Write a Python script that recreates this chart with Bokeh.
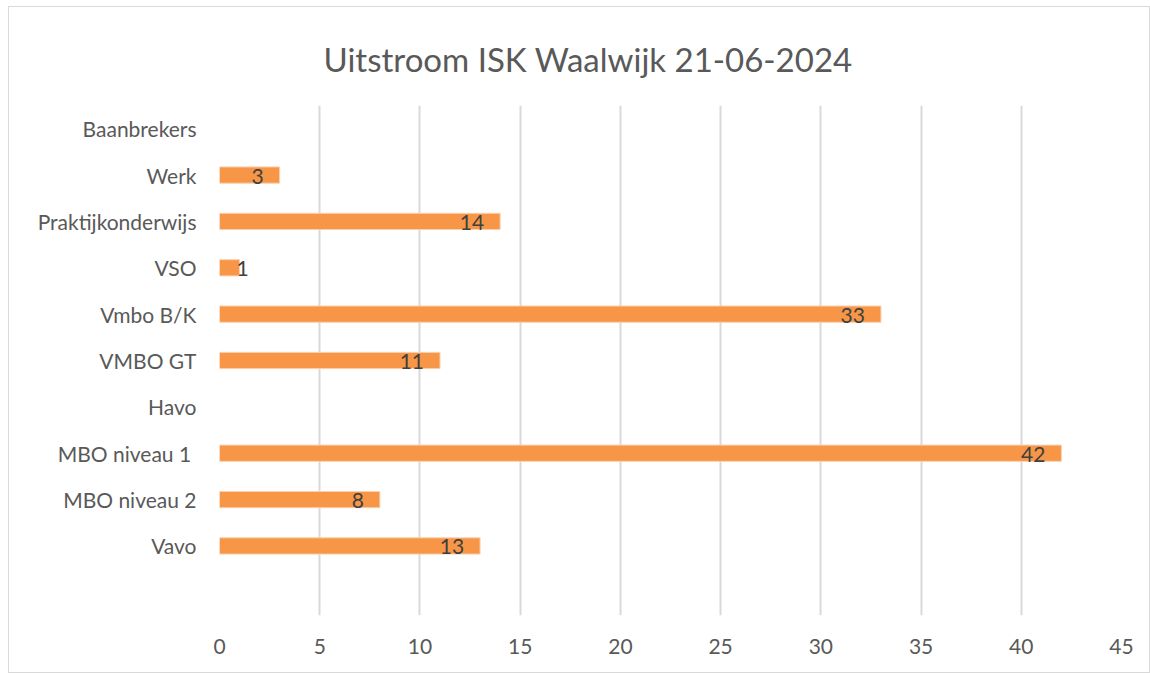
from bokeh.plotting import figure
from bokeh.models import FactorRange, Range1d, ColumnDataSource
from bokeh.core.properties import value
from bokeh.embed import file_html
from bokeh.resources import INLINE

title = "Uitstroom ISK Waalwijk  21-06-2024"
categories = ["Baanbrekers", "Werk", "Praktijkonderwijs", "VSO", "Vmbo B/K",
              "VMBO GT", "Havo", "MBO niveau 1 ", "MBO niveau 2", "Vavo"]
values = [0, 3, 14, 1, 33, 11, 0, 42, 8, 13]
x_ticks = [0, 5, 10, 15, 20, 25, 30, 35, 40, 45]

FONT = "Lato"
TXT = "#595959"

factors = [" "] + categories[::-1]

p = figure(width=1142, height=667, output_backend="svg", toolbar_location=None,
           y_range=FactorRange(factors=factors), x_range=Range1d(0, 45),
           min_border_left=210, min_border_right=30, min_border_top=98, min_border_bottom=59)
p.styles = {"border": "1px solid #d9d9d9", "box-sizing": "border-box",
            "margin-left": "8px", "margin-top": "6px"}
p.outline_line_color = None
p.background_fill_color = "white"

cats = [c for c, v in zip(categories, values) if v > 0]
vals = [v for v in values if v > 0]
src = ColumnDataSource(dict(y=cats, v=vals))
p.hbar(y="y", right="v", left=0, height=0.35, source=src,
       fill_color="#F79646", line_color="#FAD0AE", line_width=1)

big = ColumnDataSource(dict(y=[c for c, v in zip(cats, vals) if v >= 2],
                            v=[v for v in vals if v >= 2],
                            lab=[str(v) for v in vals if v >= 2]))
small = ColumnDataSource(dict(y=[c for c, v in zip(cats, vals) if v < 2],
                              v=[v for v in vals if v < 2],
                              lab=[str(v) for v in vals if v < 2]))
p.text(x="v", y="y", text="lab", source=big, text_align="right", text_baseline="middle",
       x_offset=-16, y_offset=1, text_font=value(FONT), text_font_size="21px", text_color="#404040")
p.text(x="v", y="y", text="lab", source=small, text_align="left", text_baseline="middle",
       x_offset=-3, y_offset=1, text_font=value(FONT), text_font_size="21px", text_color="#404040")

p.title.text = title
p.title.align = "left"
p.title.offset = 104
p.title.text_font = FONT
p.title.text_font_size = "33px"
p.title.text_font_style = "normal"
p.title.text_color = TXT
p.title.standoff = 53

p.xaxis.ticker = x_ticks
p.xaxis.axis_line_color = None
p.xaxis.major_tick_line_color = None
p.xaxis.minor_tick_line_color = None
p.xaxis.major_label_standoff = 17
p.xaxis.major_label_text_font = FONT
p.xaxis.major_label_text_font_size = "21px"
p.xaxis.major_label_text_color = TXT

p.yaxis.axis_line_color = None
p.yaxis.major_tick_line_color = None
p.yaxis.major_label_standoff = 17
p.yaxis.major_label_text_font = FONT
p.yaxis.major_label_text_font_size = "21px"
p.yaxis.major_label_text_color = TXT

p.ygrid.grid_line_color = None
p.xgrid.grid_line_color = "#D9D9D9"
p.xgrid.grid_line_width = 2

open("out.html", "w").write(file_html(p, INLINE))
